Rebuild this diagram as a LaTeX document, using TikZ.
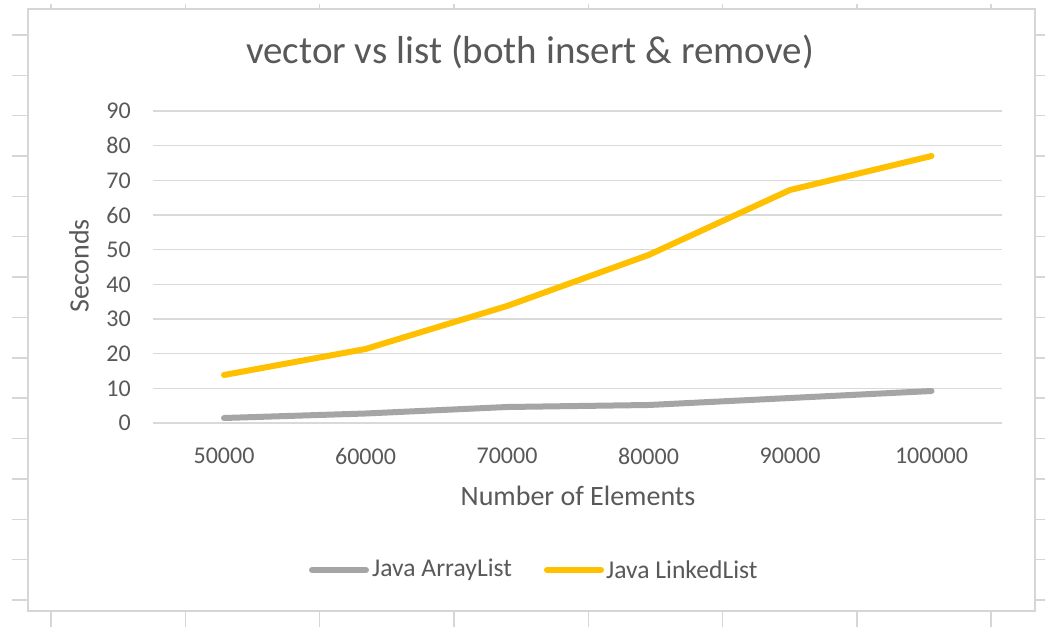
\documentclass[tikz,border=0pt]{standalone}
\usepackage{fontspec}
\setmainfont{Carlito}
\usetikzlibrary{positioning}
\definecolor{ChartText}{RGB}{89,89,89}
\definecolor{GridGrey}{RGB}{217,217,217}
\definecolor{SheetGrey}{RGB}{214,214,214}
\definecolor{ArrayGrey}{RGB}{165,165,165}
\definecolor{LinkedGold}{RGB}{255,192,0}

\begin{document}
\begin{tikzpicture}[
  x=1pt, y=-1pt,
  node distance=4pt,
  every node/.style={font=\fontsize{24}{29}\selectfont, text=ChartText, inner sep=0pt},
  gridline/.style={draw=GridGrey, line width=1.4pt},
  sheetmark/.style={draw=SheetGrey, line width=1.4pt},
  series/.style={line width=6pt, line cap=round, line join=round},
  ticklabel/.style={anchor=east},
  axistitle/.style={font=\fontsize{28}{33}\selectfont},
  legendtext/.style={anchor=west, font=\fontsize{25.6}{30}\selectfont}
]
\useasboundingbox[fill=white] (0,0) rectangle (1045,627);

% spreadsheet marks round the chart
\foreach \r in {0,...,14} {
  \draw[sheetmark] (12,{35+40.35*\r}) -- (28,{35+40.35*\r});
  \draw[sheetmark] (1035,{35+40.35*\r}) -- (1045,{35+40.35*\r});
}
\foreach \c in {0,...,7} {
  \draw[sheetmark] ({51+134.3*\c},4) -- ({51+134.3*\c},9);
  \draw[sheetmark] ({51+134.3*\c},611) -- ({51+134.3*\c},627);
}
\draw[sheetmark] (28,9) rectangle (1035,611);

% grid and value axis
\foreach \v in {0,10,...,90} {
  \draw[gridline] (153,{423-3.467*\v}) -- (1002,{423-3.467*\v});
  \node[ticklabel] (ylab\v) at (131,{423-3.467*\v}) {\v};
}

% category axis
\foreach \n [count=\i from 0] in {50000,60000,70000,80000,90000,100000}
  \node (xlab\i) at ({224+141.5*\i},456) {\n};

\node[font=\fontsize{39}{47}\selectfont] (title) at (530,52) {vector vs list (both insert \& remove)};
\node[axistitle, rotate=90] (ytitle) at (79,266) {Seconds};
\node[axistitle] (xtitle) at (578,496) {Number of Elements};

% data
\draw[series, ArrayGrey] (224,418) -- (365.5,413.5) -- (507,407) -- (648.5,405)
  -- (790,398) -- (931.5,391);
\draw[series, LinkedGold] (224,375) -- (365.5,349) -- (507,306) -- (648.5,255)
  -- (790,190) -- (931.5,156);

% legend
\coordinate (legA0) at (312,570);
\coordinate (legA1) at (366,570);
\node[legendtext] (legA) at (372,570) {Java ArrayList};
\coordinate (legB0) at (547,570);
\coordinate (legB1) at (601,570);
\node[legendtext] (legB) at (606,570) {Java LinkedList};
\draw[series, ArrayGrey] (legA0) -- (legA1);
\draw[series, LinkedGold] (legB0) -- (legB1);
\end{tikzpicture}
\end{document}
